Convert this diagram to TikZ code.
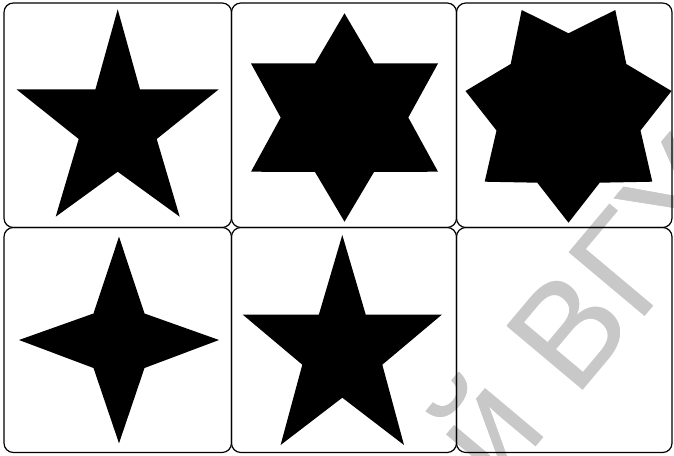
\documentclass[tikz,border=0pt]{standalone}
\usepackage{fontspec}
\newfontfamily\wmfont{Liberation Sans}
\usepackage{pdfrender}
\definecolor{wmgray}{HTML}{C8C8C8}
\tikzset{
  card/.style={draw=black, line width=0.9pt, rounded corners=7pt},
  starfill/.style={fill=black},
  wmark/.style={font=\wmfont\fontsize{108}{112}\selectfont, text=wmgray,
                rotate=50, anchor=base west, inner sep=0pt},
}
% watermark text with a white halo round it
\newcommand{\halotext}[1]{%
  \rlap{\textpdfrender{TextRenderingMode=Stroke, LineWidth=8pt,
    StrokeColor=white}{#1}}%
  \textpdfrender{TextRenderingMode=FillStroke, LineWidth=1.2pt,
    StrokeColor=wmgray, FillColor=wmgray}{#1}}

\begin{document}
\begin{tikzpicture}[x=0.75pt, y=-0.75pt]
  \useasboundingbox (0,0) rectangle (674,456);

  % five-pointed star (top left)
  \fill[starfill] (117.7,9.3) -- (140,89.5) -- (218.5,89.5) -- (156.7,139)
    -- (179.7,216.7) -- (117.7,171.7) -- (55.7,216.7) -- (78.7,139)
    -- (16.7,89.5) -- (95.4,89.5) -- cycle;

  % six-pointed star
  \fill[starfill] (344.5,13.3) -- (374,63.5) -- (438,63.5) -- (408.3,117.5)
    -- (438,171.7) -- (374,172) -- (344.5,221.7) -- (315,172)
    -- (251,171.7) -- (280.7,117.5) -- (251,63.5) -- (315,63.5) -- cycle;

  % seven-pointed star
  \fill[starfill] (521.7,10) -- (568.5,33.3) -- (615.3,10) -- (626.3,64)
    -- (671.5,91) -- (640.5,130.5) -- (652.3,181.7) -- (599.7,182.7)
    -- (568.5,222.7) -- (537.3,182.7) -- (484.7,181.7) -- (496.5,130.5)
    -- (465.5,91) -- (510.7,64) -- cycle;

  % four-pointed star
  \fill[starfill] (119,236.7) -- (144.5,313.5) -- (219,340) -- (144.5,368)
    -- (119,443.3) -- (93.5,368) -- (19,340) -- (93.5,313.5) -- cycle;

  % five-pointed star (bottom middle)
  \fill[starfill] (342.3,235) -- (365.7,314.5) -- (442,314.5) -- (382.3,364.7)
    -- (404,445) -- (342.3,397.7) -- (280.6,445) -- (302.3,364.7)
    -- (242.6,314.5) -- (318.9,314.5) -- cycle;

  % watermark
  \begin{scope}
    \clip (0,0) rectangle (674,456);
    \node[wmark] (wm) at (498,491.5) {\halotext{й ВГУ}};
  \end{scope}

  % cards
  \draw[card] (4,3) rectangle (231.5,227.5);
  \draw[card] (231.5,3) rectangle (456.5,227.5);
  \draw[card] (456.5,3) rectangle (672,227.5);
  \draw[card] (4,227.5) rectangle (231.5,452.5);
  \draw[card] (231.5,227.5) rectangle (456.5,452.5);
  \draw[card] (456.5,227.5) rectangle (672,452.5);
\end{tikzpicture}
\end{document}
